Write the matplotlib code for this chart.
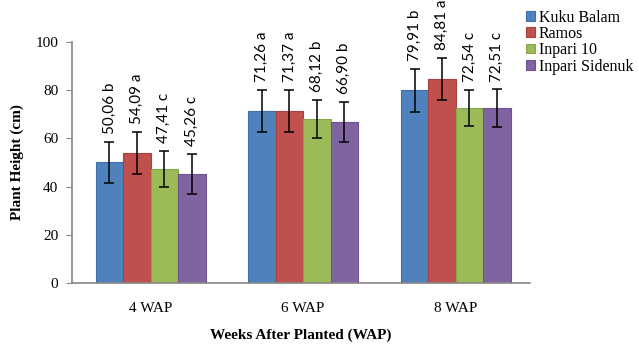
import matplotlib.pyplot as plt
import numpy as np

weeks = ["4 WAP", "6 WAP", "8 WAP"]
varieties = ["Kuku Balam", "Ramos", "Inpari 10", "Inpari Sidenuk"]
heights = [
    [50.06, 71.26, 79.91],
    [54.09, 71.37, 84.81],
    [47.41, 68.12, 72.54],
    [45.26, 66.90, 72.51],
]
errors = [
    [8.6, 8.8, 8.9],
    [8.7, 8.8, 8.7],
    [7.5, 7.8, 7.5],
    [8.3, 8.3, 7.9],
]
letters = [
    ["b", "a", "b"],
    ["a", "a", "a"],
    ["c", "b", "c"],
    ["c", "b", "c"],
]
colors = ["#4F81BD", "#C0504D", "#9BBB59", "#8064A2"]
edges = ["#3F6FA8", "#A9403D", "#87A64A", "#6C538D"]

plt.rcParams["font.family"] = ["Liberation Serif", "DejaVu Serif"]

fig = plt.figure(figsize=(6.39, 3.48), dpi=100)
ax = fig.add_axes([0.1127, 0.1868, 0.7163, 0.6925])

x = np.arange(len(weeks))
width = 0.18
for i, name in enumerate(varieties):
    pos = x + (i - 1.5) * width + 0.015
    ax.bar(pos, heights[i], width, color=colors[i], edgecolor=edges[i],
           linewidth=0.8, label=name, zorder=2)
    ax.errorbar(pos, heights[i], yerr=errors[i], fmt="none", ecolor="black",
                elinewidth=1.1, capsize=3.5, capthick=1.1, zorder=3)
    for p, h, e, l in zip(pos, heights[i], errors[i], letters[i]):
        ax.annotate(f"{h:.2f} {l}".replace(".", ","), (p, h + e),
                    xytext=(0, 5.5), textcoords="offset points",
                    rotation=90, ha="center", va="bottom", fontsize=11,
                    family=["Lato", "DejaVu Sans"])

ax.set_xlim(-0.5, 2.5)
ax.set_ylim(0, 100)
ax.set_yticks([0, 20, 40, 60, 80, 100])
ax.set_xticks(x + 0.015)
ax.set_xticklabels(weeks, fontsize=11)
ax.tick_params(axis="y", labelsize=11, length=4, color="#868686", pad=6)
ax.tick_params(axis="x", length=0, pad=14)
for s in ["top", "right"]:
    ax.spines[s].set_visible(False)
for s in ["left", "bottom"]:
    ax.spines[s].set_color("#868686")
    ax.spines[s].set_linewidth(1.2)

ax.set_ylabel("Plant Height (cm)", fontsize=11, fontweight="bold")
ax.yaxis.set_label_coords(-0.105, 0.5)
ax.set_xlabel("Weeks After Planted (WAP)", fontsize=11, fontweight="bold")
ax.xaxis.set_label_coords(0.5, -0.19)

fig.legend(loc="upper left", bbox_to_anchor=(0.808, 1.0), frameon=False,
           fontsize=11.5, handlelength=0.55, handleheight=0.55, handletextpad=0.25,
           labelspacing=0.02, borderaxespad=0.2)

fig.savefig("out.png", dpi=100)
